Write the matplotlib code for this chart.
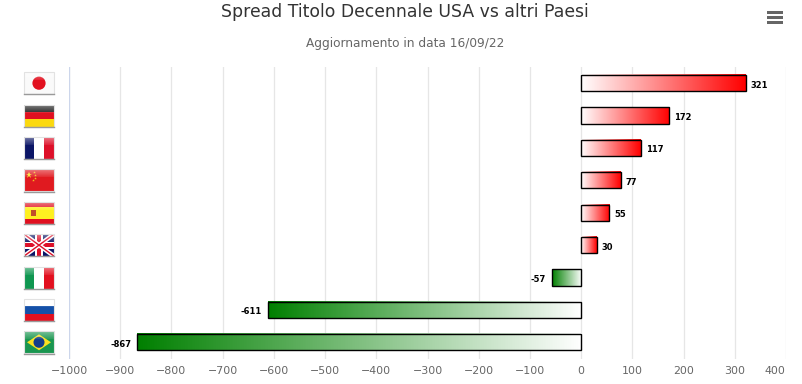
import numpy as np
import matplotlib
matplotlib.use("Agg")
import matplotlib.pyplot as plt
from matplotlib.patches import Rectangle, Polygon, Circle, Ellipse

W, H = 803, 384

paesi = ["Giappone", "Germania", "Francia", "Cina", "Spagna", "Regno Unito", "Italia", "Russia", "Brasile"]
spread = [321, 172, 117, 77, 55, 30, -57, -611, -867]
ticks = list(range(-1000, 401, 100))

plt.rcParams["font.family"] = "DejaVu Sans"
fig = plt.figure(figsize=(W / 100, H / 100), dpi=100)

# area del grafico in pixel
left, right, top, bottom = 69, 786, 67, 358.5
ax = fig.add_axes([left / W, 1 - bottom / H, (right - left) / W, (bottom - top) / H])
ax.set_xlim(-1000, 400)
ax.set_ylim(len(paesi) - 0.5, -0.5)
ax.set_yticks([])
ax.set_xticks(ticks)
ax.set_xticklabels([])
ax.tick_params(axis="x", length=0)
for s in ax.spines.values():
    s.set_visible(False)
ax.set_axisbelow(True)
ax.grid(axis="x", color="#e6e6e6", linewidth=0.9)
ax.axvline(-1000, color="#ccd6eb", linewidth=0.9, zorder=1)

# etichette asse x, l'ultima spostata a sinistra per non uscire dal grafico
for t in ticks:
    lab = str(t).replace("-", "\u2212")
    dx = -11 if t == ticks[-1] else 0
    ax.annotate(lab, (t, 0), xycoords=("data", "axes fraction"), xytext=(dx, -8),
                textcoords="offset pixels", ha="center", va="top", fontsize=7.9, color="#666666")

# barre con gradiente
bar_h = 0.5
rossi = np.ones((1, 256, 3))
rossi[0, :, 1] = np.linspace(1, 0, 256)
rossi[0, :, 2] = np.linspace(1, 0, 256)
verdi = np.ones((1, 256, 3))
verdi[0, :, 0] = np.linspace(0, 1, 256)
verdi[0, :, 1] = np.linspace(0.5, 1, 256)
verdi[0, :, 2] = np.linspace(0, 1, 256)

for i, v in enumerate(spread):
    img = rossi if v > 0 else verdi
    ax.imshow(img, extent=[min(v, 0), max(v, 0), i + bar_h / 2, i - bar_h / 2],
              aspect="auto", zorder=2, interpolation="bilinear")
    ax.add_patch(Rectangle((min(v, 0), i - bar_h / 2), abs(v), bar_h, fill=False,
                           edgecolor="black", linewidth=1.0, zorder=3))
    off = 5 if v > 0 else -6
    ax.annotate(str(v), (v, i), xytext=(off, -2), textcoords="offset pixels",
                ha="left" if v > 0 else "right", va="center",
                fontsize=6.0, fontweight="bold", color="black")
ax.set_xlim(-1000, 400)
ax.set_ylim(len(paesi) - 0.5, -0.5)

# titoli
fig.text(405 / W, 1 - 12 / H, "Spread Titolo Decennale USA vs altri Paesi", ha="center", va="center",
         fontsize=12.4, color="#333333")
fig.text(405 / W, 1 - 44 / H, "Aggiornamento in data 16/09/22", ha="center", va="center",
         fontsize=8.7, color="#666666")

# icona menu
icon = fig.add_axes([767 / W, 1 - 24 / H, 16 / W, 13 / H])
icon.set_xlim(0, 16)
icon.set_ylim(13, 0)
icon.axis("off")
for y0 in (0, 5, 10):
    icon.add_patch(Rectangle((0, y0), 16, 3, facecolor="#666666", lw=0))


# bandiere disegnate a mano, 30x22
def strisce_o(a, colori):
    for k, c in enumerate(colori):
        a.add_patch(Rectangle((0, k * 22 / len(colori)), 30, 22 / len(colori), facecolor=c, lw=0))


def strisce_v(a, colori):
    for k, c in enumerate(colori):
        a.add_patch(Rectangle((k * 10, 0), 10, 22, facecolor=c, lw=0))


def bandiera(a, nome):
    if nome == "Giappone":
        a.add_patch(Rectangle((0, 0), 30, 22, facecolor="#fafafa", lw=0))
        a.add_patch(Circle((15, 11), 6.6, facecolor="#e2101f", lw=0))
    elif nome == "Germania":
        strisce_o(a, ["#1c1c1c", "#e01020", "#fbd90f"])
    elif nome == "Francia":
        strisce_v(a, ["#0b1566", "#ffffff", "#dd1029"])
    elif nome == "Cina":
        a.add_patch(Rectangle((0, 0), 30, 22, facecolor="#e01a20", lw=0))
        a.plot([5], [6], marker="*", color="#fbe020", markersize=5, mew=0)
        for x, y in [(10, 3), (11, 6), (11, 8.5), (9, 10.5)]:
            a.plot([x], [y], marker="*", color="#f5c020", markersize=2, mew=0)
    elif nome == "Spagna":
        a.add_patch(Rectangle((0, 0), 30, 22, facecolor="#e01020", lw=0))
        a.add_patch(Rectangle((0, 5.5), 30, 11.5, facecolor="#fef020", lw=0))
        a.add_patch(Rectangle((7, 8), 5, 6, facecolor="#c0502a", lw=0))
    elif nome == "Regno Unito":
        a.add_patch(Rectangle((0, 0), 30, 22, facecolor="#0b1566", lw=0))
        a.plot([0, 30], [0, 22], color="white", lw=3.2, solid_capstyle="butt")
        a.plot([0, 30], [22, 0], color="white", lw=3.2, solid_capstyle="butt")
        a.plot([0, 30], [0, 22], color="#dd1029", lw=1, solid_capstyle="butt")
        a.plot([0, 30], [22, 0], color="#dd1029", lw=1, solid_capstyle="butt")
        a.add_patch(Rectangle((11, 0), 8, 22, facecolor="white", lw=0))
        a.add_patch(Rectangle((0, 7.5), 30, 7, facecolor="white", lw=0))
        a.add_patch(Rectangle((12.7, 0), 4.6, 22, facecolor="#dd1029", lw=0))
        a.add_patch(Rectangle((0, 9), 30, 4, facecolor="#dd1029", lw=0))
    elif nome == "Italia":
        strisce_v(a, ["#0f9650", "#ffffff", "#e2101f"])
    elif nome == "Russia":
        strisce_o(a, ["#ffffff", "#1450a8", "#e2101f"])
    elif nome == "Brasile":
        a.add_patch(Rectangle((0, 0), 30, 22, facecolor="#1a9650", lw=0))
        a.add_patch(Polygon([(3, 11), (15, 3), (27, 11), (15, 19)], facecolor="#fbe020", lw=0))
        a.add_patch(Ellipse((15, 11), 11, 11, facecolor="#153e8a", lw=0))
    # riflesso lucido in alto
    a.imshow(np.dstack([np.ones((8, 1, 3)), np.linspace(0.4, 0.1, 8).reshape(8, 1)]),
             extent=[0, 30, 8, 0], aspect="auto", zorder=5)
    # bordo chiaro e ombra
    a.add_patch(Rectangle((0, 0), 30, 22, fill=False, edgecolor="#e2e2e2", lw=0.8, zorder=6, clip_on=False))
    a.plot([0, 30], [22.3, 22.3], color="#9a9a9a", lw=1.0, zorder=7, clip_on=False)
    a.set_xlim(0, 30)
    a.set_ylim(22, 0)


for i, nome in enumerate(paesi):
    yc = top + (i + 0.5) * (bottom - top) / len(paesi)
    a = fig.add_axes([24 / W, 1 - (yc + 11) / H, 30 / W, 22 / H])
    bandiera(a, nome)
    a.axis("off")

fig.savefig("out.png", dpi=100)
